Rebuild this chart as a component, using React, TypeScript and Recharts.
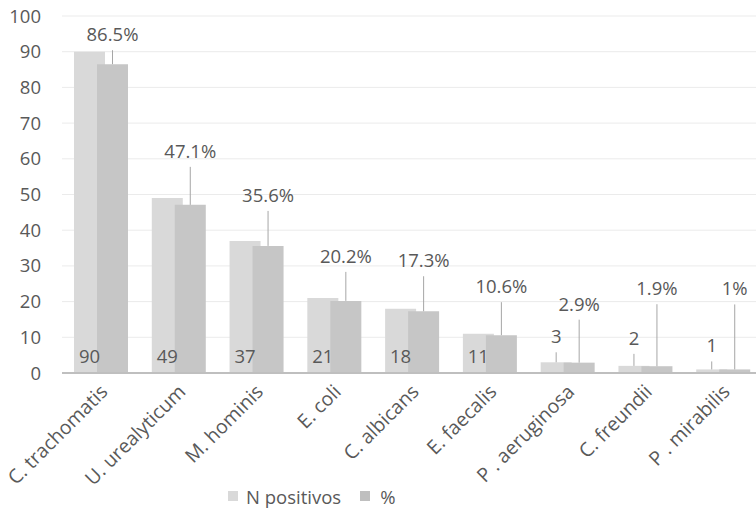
import React from 'react';
import { BarChart, Bar, XAxis, YAxis, CartesianGrid, LabelList, Legend } from 'recharts';

const categories = ['C. trachomatis', 'U. urealyticum', 'M. hominis', 'E. coli', 'C. albicans', 'E. faecalis', 'P . aeruginosa', 'C. freundii', 'P . mirabilis'];
const nPositivos = [90, 49, 37, 21, 18, 11, 3, 2, 1];
const percent = [86.5, 47.1, 35.6, 20.2, 17.3, 10.6, 2.9, 1.9, 1];
const yTicks = [0, 10, 20, 30, 40, 50, 60, 70, 80, 90, 100];

// label placement (pixels above the bar top); null = inside the bar at its base
const pctLabelLift = [23, 47, 44, 38, 44, 42, 52, 71, 74];
const nLabelLift: (number | null)[] = [null, null, null, null, null, null, 19, 21, 17];

const data = categories.map((name, i) => ({ name, n: nPositivos[i], pct: percent[i] }));

const FONT = '"Open Sans", "Noto Sans", sans-serif';
const TXT = '#595959';
const LEADER = '#a6a6a6';
const BAR_W = 31;
const GAP = -8;
const FS = 18.5;

const XTick = (props: any) => {
  const { x, y, payload } = props;
  const tx = x + 8;
  const ty = y + 12;
  return (
    <text x={tx} y={ty} transform={`rotate(-45 ${tx} ${ty})`} textAnchor="end" fill={TXT} fontSize={19.5} fontFamily={FONT}>
      {payload.value}
    </text>
  );
};

const renderLabels = (props: any) => {
  const vb = props.viewBox && props.viewBox.width !== undefined ? props.viewBox : props;
  const x = Number(vb.x);
  const y = Number(vb.y);
  const width = Number(vb.width);
  const height = Number(vb.height);
  let i = props.index;
  if (i === undefined || i === null) i = percent.indexOf(Number(props.value));
  const pct = percent[i];
  const n = nPositivos[i];
  const base = y + height;
  const k = height / pct;
  const cx = x + width / 2;
  const pctBaseline = y - pctLabelLift[i];
  const lx = x - BAR_W - GAP + BAR_W / 2;
  const nTop = base - n * k;
  const lift = nLabelLift[i];
  return (
    <g key={`lbl-${i}`}>
      <line x1={cx} x2={cx} y1={pctBaseline + 9} y2={y} stroke={LEADER} strokeWidth={1} />
      <text x={cx} y={pctBaseline} textAnchor="middle" fill={TXT} fontSize={FS} fontFamily={FONT}>
        {`${pct}%`}
      </text>
      {lift === null ? (
        <text x={lx} y={base - 10} textAnchor="middle" fill={TXT} fontSize={FS} fontFamily={FONT}>
          {n}
        </text>
      ) : (
        <g>
          <line x1={lx} x2={lx} y1={nTop - lift + 9} y2={nTop} stroke={LEADER} strokeWidth={1} />
          <text x={lx} y={nTop - lift} textAnchor="middle" fill={TXT} fontSize={FS} fontFamily={FONT}>
            {n}
          </text>
        </g>
      )}
    </g>
  );
};

const LegendContent = () => (
  <div style={{ display: 'flex', alignItems: 'center', height: 26, fontFamily: FONT, fontSize: FS, color: TXT, whiteSpace: 'nowrap' }}>
    <span style={{ display: 'inline-block', width: 10, height: 10, background: '#d9d9d9', marginRight: 8 }} />
    <span>N positivos</span>
    <span style={{ display: 'inline-block', width: 10, height: 10, background: '#bfbfbf', marginLeft: 19, marginRight: 10 }} />
    <span>%</span>
  </div>
);

export default function App() {
  return (
    <div style={{ position: 'absolute', left: 0, top: 0, width: 756, height: 510, overflow: 'hidden', background: '#fff' }}>
      <BarChart
        width={764}
        height={510}
        data={data}
        margin={{ top: 16, right: 2, left: 0, bottom: 0 }}
        barSize={BAR_W}
        barGap={GAP}
      >
        <CartesianGrid vertical={false} stroke="#ebebeb" strokeWidth={1} />
        <YAxis
          width={62}
          domain={[0, 100]}
          ticks={yTicks}
          interval={0}
          axisLine={false}
          tickLine={false}
          tickMargin={15}
          tick={{ fill: TXT, fontSize: FS, fontFamily: FONT }}
        />
        <XAxis
          dataKey="name"
          height={111}
          interval={0}
          tickLine={false}
          axisLine={{ stroke: '#bfbfbf', strokeWidth: 2 }}
          tick={<XTick />}
        />
        <Legend
          verticalAlign="bottom"
          content={<LegendContent />}
          wrapperStyle={{ position: 'absolute', left: 228, top: 483, width: 'auto', height: 26 }}
        />
        <Bar dataKey="n" name="N positivos" fill="#d9d9d9" isAnimationActive={false} />
        <Bar dataKey="pct" name="%" fill="#c6c6c6" isAnimationActive={false}>
          <LabelList dataKey="pct" content={renderLabels} />
        </Bar>
      </BarChart>
    </div>
  );
}
